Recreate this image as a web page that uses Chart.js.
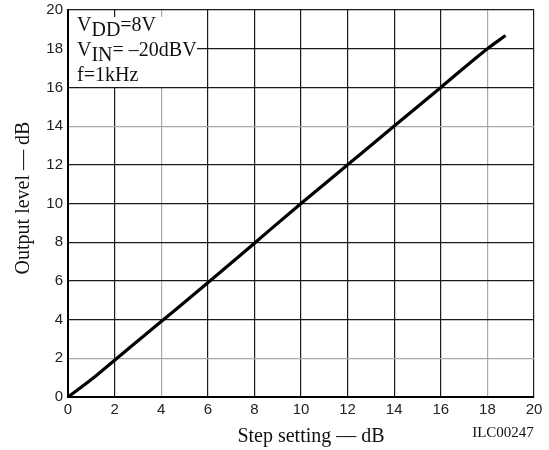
<!DOCTYPE html>
<html><head><meta charset="utf-8">
<script src="https://cdn.jsdelivr.net/npm/chart.js@4"></script>
<style>html,body{margin:0;padding:0;background:#fff}#wrap{width:549px;height:450px;position:relative}</style>
</head><body><div id="wrap"><canvas id="c" width="549" height="450"></canvas></div>
<script>
const stepSetting = [0, 1, 2, 4, 6, 8, 10, 12, 14, 16, 18, 18.78];
const outputLevel = [0, 0.9, 1.9, 3.9, 5.9, 7.95, 10, 12, 14, 16, 18, 18.68];
const xTicks = [0, 2, 4, 6, 8, 10, 12, 14, 16, 18, 20];
const yTicks = [0, 2, 4, 6, 8, 10, 12, 14, 16, 18, 20];
const xTitle = 'Step setting — dB';
const yTitle = 'Output level — dB';
const figId = 'ILC00247';

const DARK = '#1a1a1a', LIGHT = '#a8a8a8';
const xGrid = ['#000', DARK, LIGHT, DARK, DARK, DARK, DARK, DARK, DARK, LIGHT, DARK];
const yGrid = ['#000', LIGHT, DARK, DARK, DARK, DARK, DARK, LIGHT, DARK, DARK, DARK];

const serif = '"Liberation Serif", "Times New Roman", serif';
const sans = '"Liberation Sans", Arial, sans-serif';

const extras = {
  id: 'extras',
  beforeDatasetsDraw(chart) {
    const ctx = chart.ctx, ca = chart.chartArea;
    ctx.save();
    // annotation box
    ctx.fillStyle = '#fff';
    ctx.fillRect(ca.left + 1, 17, 128, 70);
    ctx.fillStyle = '#111';
    ctx.textBaseline = 'alphabetic';
    ctx.textAlign = 'left';
    const x0 = ca.left + 9;
    function sub(main, s, rest, y) {
      ctx.font = '20px ' + serif;
      ctx.fillText(main, x0, y);
      let w = ctx.measureText(main).width;
      ctx.fillText(s, x0 + w, y + 5);
      w += ctx.measureText(s).width;
      ctx.fillText(rest, x0 + w, y);
    }
    sub('V', 'DD', '=8V', 31);
    sub('V', 'IN', '= –20dBV', 56);
    ctx.font = '20px ' + serif;
    ctx.fillText('f=1kHz', x0, 81);
    // titles
    ctx.font = '20px ' + serif;
    ctx.textAlign = 'center';
    ctx.fillText(xTitle, 311, 442);
    ctx.font = '15px ' + serif;
    ctx.fillText(figId, 503, 437);
    ctx.translate(29, 198);
    ctx.rotate(-Math.PI / 2);
    ctx.font = '20px ' + serif;
    ctx.fillText(yTitle, 0, 0);
    ctx.restore();
  }
};

new Chart(document.getElementById('c'), {
  type: 'scatter',
  data: {
    datasets: [{
      data: stepSetting.map((x, i) => ({x: x, y: outputLevel[i]})),
      showLine: true,
      borderColor: '#000',
      borderWidth: 3.2,
      pointRadius: 0,
      tension: 0.3,
      cubicInterpolationMode: 'monotone'
    }]
  },
  options: {
    responsive: false,
    animation: false,
    devicePixelRatio: 1,
    layout: {padding: {top: 10, right: 15, left: 0, bottom: 0}},
    plugins: {legend: {display: false}, tooltip: {enabled: false}},
    scales: {
      x: {
        type: 'linear', min: 0, max: 20,
        afterBuildTicks: s => { s.ticks = xTicks.map(v => ({value: v})); },
        afterFit: s => { s.height = 53; },
        grid: {color: ctx => xGrid[ctx.index] || DARK, lineWidth: 1.2, drawTicks: false},
        border: {color: '#000', width: 2},
        ticks: {padding: 4, color: '#222', font: {family: sans, size: 15}}
      },
      y: {
        type: 'linear', min: 0, max: 20,
        afterBuildTicks: s => { s.ticks = yTicks.map(v => ({value: v})); },
        afterFit: s => { s.width = 68; s.paddingTop = 0; },
        grid: {color: ctx => yGrid[ctx.index] || DARK, lineWidth: 1.2, drawTicks: false},
        border: {color: '#000', width: 2},
        ticks: {padding: 5, color: '#222', font: {family: sans, size: 15}}
      }
    }
  },
  plugins: [extras]
});
</script></body></html>
